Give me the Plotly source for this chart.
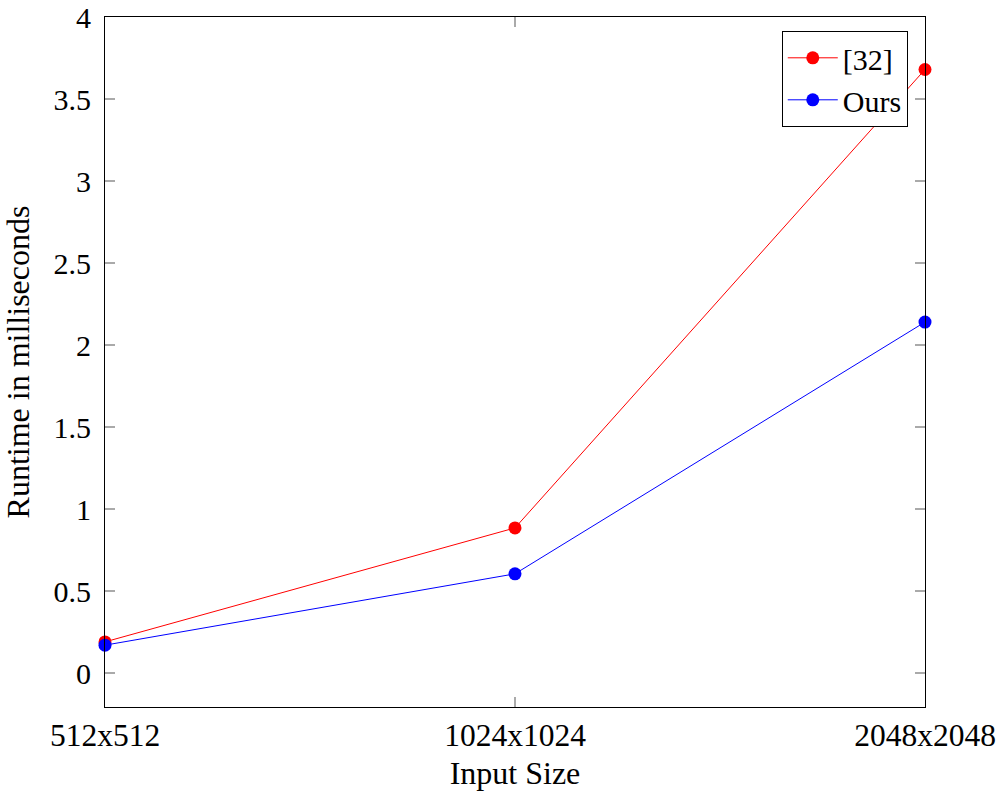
import plotly.graph_objects as go

categories = ["512x512", "1024x1024", "2048x2048"]
ref32 = [0.19, 0.885, 3.68]
ours = [0.17, 0.605, 2.14]
y_ticks = [0, 0.5, 1, 1.5, 2, 2.5, 3, 3.5, 4]
y_tick_text = ["0", "0.5", "1", "1.5", "2", "2.5", "3", "3.5", "4"]

xpos = list(range(len(categories)))
font = "Liberation Serif, Times New Roman, serif"

fig = go.Figure()
fig.add_trace(go.Scatter(x=xpos, y=ref32, name="[32]", mode="lines+markers",
                         line=dict(color="red", width=1), marker=dict(color="red", size=13),
                         cliponaxis=False))
fig.add_trace(go.Scatter(x=xpos, y=ours, name="Ours", mode="lines+markers",
                         line=dict(color="blue", width=1), marker=dict(color="blue", size=13),
                         cliponaxis=False))

fig.update_layout(
    width=999, height=791,
    margin=dict(l=105, r=74, t=17, b=84, autoexpand=False),
    paper_bgcolor="white", plot_bgcolor="white",
    font=dict(family=font, size=30, color="black"),
    showlegend=True,
    legend=dict(x=0.979, y=0.98, xanchor="right", yanchor="top",
                bordercolor="black", borderwidth=1, bgcolor="white",
                font=dict(family=font, size=30), tracegroupgap=0, itemwidth=50),
)
fig.update_xaxes(
    range=[0, 2], tickmode="array", tickvals=xpos, ticktext=categories,
    showgrid=False, zeroline=False, showline=True, linecolor="black", linewidth=1,
    mirror="ticks", ticks="inside", ticklen=10, tickcolor="#aaaaaa", tickwidth=1.5,
    tickfont=dict(family=font, size=31.5, color="black"), automargin=False,
    ticklabeloverflow="allow",
    title=dict(text="Input Size", standoff=12, font=dict(family=font, size=32)),
    ticklabelstandoff=0,
)
fig.update_yaxes(
    range=[-0.207, 4.0], tickmode="array", tickvals=y_ticks, ticktext=y_tick_text,
    showgrid=False, zeroline=False, showline=True, linecolor="black", linewidth=1,
    mirror="ticks", ticks="inside", ticklen=10, tickcolor="#aaaaaa", tickwidth=1.5,
    tickfont=dict(family=font, size=30, color="black"), automargin=False,
    ticklabeloverflow="allow",
    title=dict(text="Runtime in milliseconds", standoff=17, font=dict(family=font, size=32)),
    ticklabelstandoff=7,
)

fig.write_html("out.html", config={"displayModeBar": False},
               post_script="document.body.style.margin='0';document.body.style.padding='0';")
